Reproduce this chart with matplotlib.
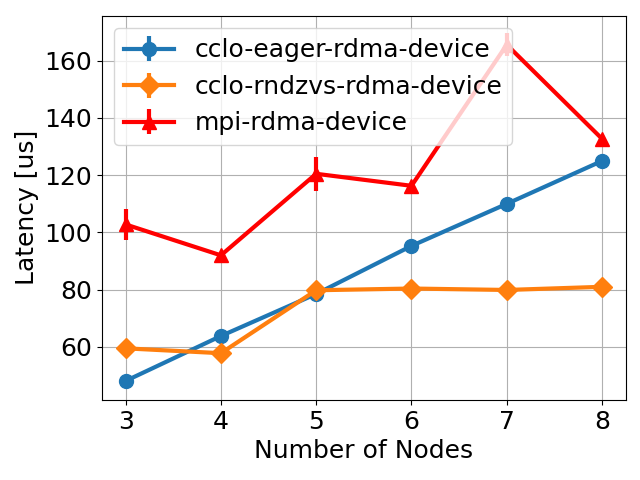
import matplotlib.pyplot as plt

nodes = [3, 4, 5, 6, 7, 8]

eager = [48.1, 63.8, 78.5, 95.3, 110.0, 125.0]
eager_err = [0.5, 0.5, 0.5, 0.5, 0.5, 0.5]

rndzvs = [59.5, 57.8, 79.8, 80.4, 79.9, 81.0]
rndzvs_err = [0.4, 0.4, 0.4, 0.4, 0.4, 0.4]

mpi = [102.8, 92.0, 120.5, 116.3, 165.6, 132.7]
mpi_err = [5.5, 0.8, 6.0, 1.0, 4.0, 1.0]

plt.rcParams['font.size'] = 18
plt.figure(figsize=(6.4, 4.8))
plt.errorbar(nodes, eager, yerr=eager_err, label='cclo-eager-rdma-device',
             marker='o', markersize=10, linewidth=3, elinewidth=3)
plt.errorbar(nodes, rndzvs, yerr=rndzvs_err, label='cclo-rndzvs-rdma-device',
             marker='D', markersize=10, linewidth=3, elinewidth=3)
plt.errorbar(nodes, mpi, yerr=mpi_err, label='mpi-rdma-device', color='red',
             marker='^', markersize=10, linewidth=3, elinewidth=3)
plt.xlabel("Number of Nodes")
plt.ylabel("Latency [us]")
plt.legend(loc='upper left')
plt.grid()
plt.subplots_adjust(left=0.159, right=0.978, top=0.967, bottom=0.167)
plt.savefig('out.png')
